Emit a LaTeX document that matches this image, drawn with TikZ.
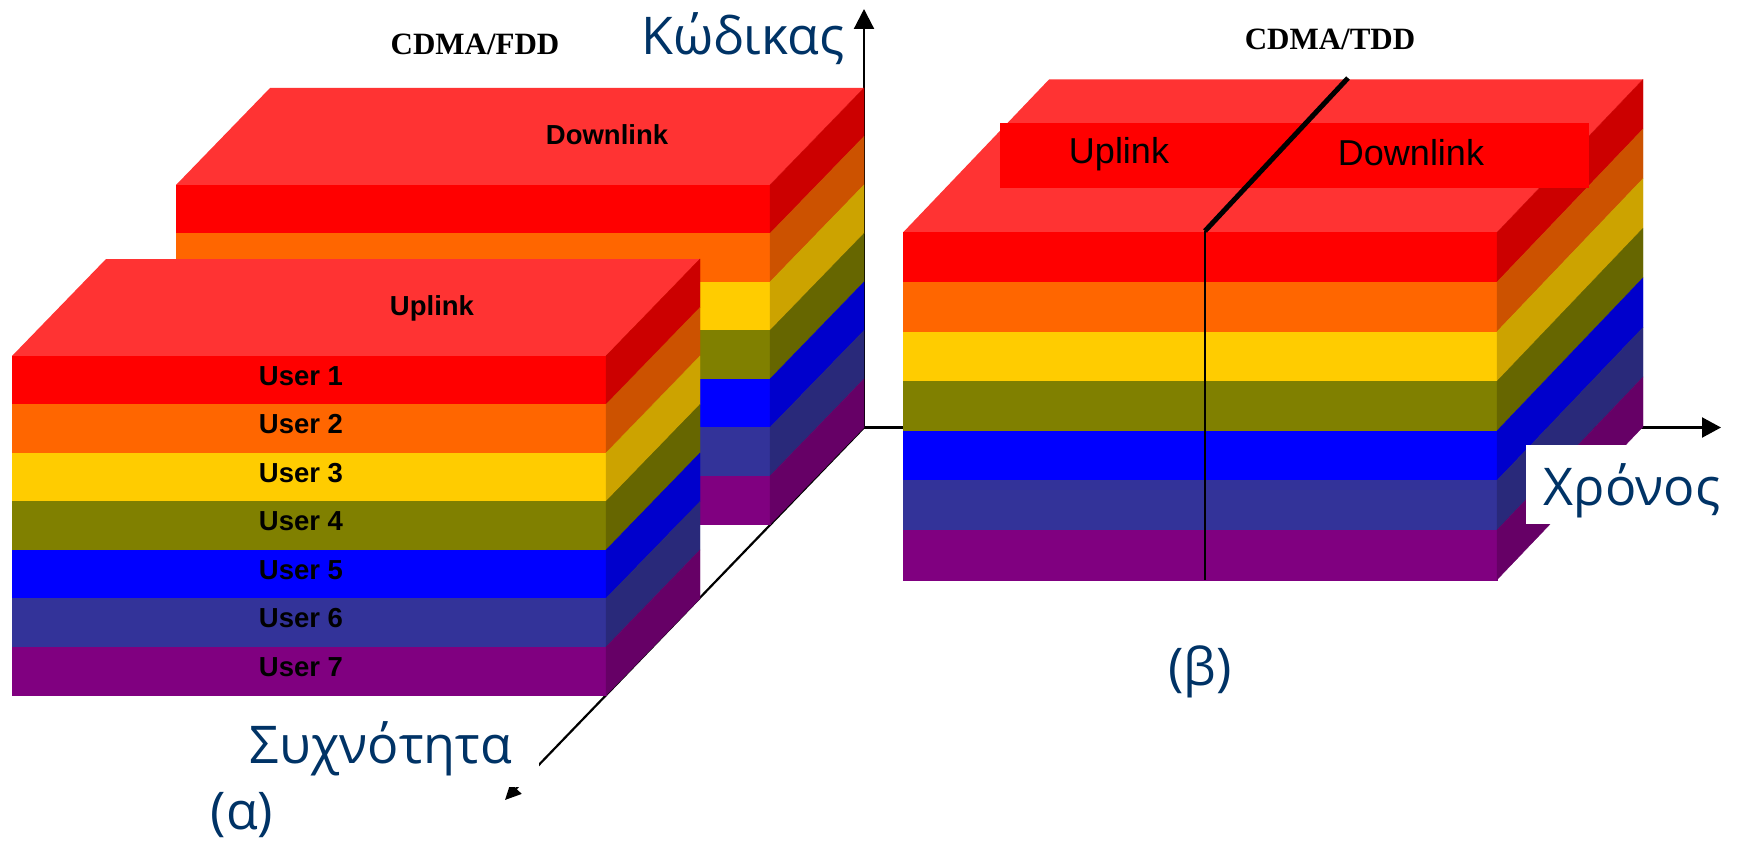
\documentclass[tikz,border=0pt]{standalone}
\usepackage{fontspec}
\setmainfont{Liberation Sans}
\newfontfamily\axisfont{Open Sans}
\newfontfamily\titlefont{Liberation Serif}
\usetikzlibrary{arrows.meta}

% face colours: front (b...) and darker side (s...)
\definecolor{topred}{HTML}{FF3333}
\definecolor{bred}{HTML}{FF0000}    \definecolor{sred}{HTML}{CC0000}
\definecolor{borange}{HTML}{FF6600} \definecolor{sorange}{HTML}{CC5200}
\definecolor{byellow}{HTML}{FFCC00} \definecolor{syellow}{HTML}{CCA300}
\definecolor{bolive}{HTML}{808000}  \definecolor{solive}{HTML}{666600}
\definecolor{bblue}{HTML}{0000FF}   \definecolor{sblue}{HTML}{0000CC}
\definecolor{bnavy}{HTML}{333399}   \definecolor{snavy}{HTML}{29297A}
\definecolor{bpurple}{HTML}{800080} \definecolor{spurple}{HTML}{660066}
\definecolor{axisink}{HTML}{003366}

% a stack of seven coloured layers seen in oblique projection
% #1,#2 front top-left corner, #3 width, #4 layer height, #5,#6 depth offset (right, up)
\newcommand\layerblock[6]{%
  \fill[topred] (#1,#2) -- ++(#5,-#6) -- ++(#3,0) -- ++(-#5,#6) -- cycle;
  \foreach \f/\s [count=\k from 0] in {bred/sred,borange/sorange,byellow/syellow,bolive/solive,bblue/sblue,bnavy/snavy,bpurple/spurple}{
    \filldraw[fill=\f,draw=\f,line width=0.4] (#1,{#2+\k*#4}) rectangle ++(#3,#4);
    \filldraw[fill=\s,draw=\s,line width=0.4] ({#1+#3},{#2+\k*#4}) -- ++(#5,-#6) -- ++(0,#4) -- ++(-#5,#6) -- cycle;
  }%
}

\begin{document}
\begin{tikzpicture}[x=1pt,y=-1pt,
  axisline/.style={line width=2.2, draw=black},
  axislbl/.style={font=\axisfont\fontsize{52}{52}\selectfont, text=axisink, inner sep=0},
  titlelbl/.style={font=\titlefont\bfseries\fontsize{31}{31}\selectfont, inner sep=0},
  boldlbl/.style={font=\bfseries\fontsize{27.5}{28}\selectfont, inner sep=0, anchor=base},
  plainlbl/.style={font=\fontsize{36}{36}\selectfont, inner sep=0, anchor=base},
]
\useasboundingbox (0,0) rectangle (1738,843);

% axes
\coordinate (origin) at (864,427.5);
\coordinate (codetip) at (864,9);
\coordinate (timetip) at (1721,427.5);
\coordinate (freqtip) at (505,800);
\draw[axisline,-{Triangle[length=20,width=20]}] (origin) -- (codetip);
\draw[axisline,-{Triangle[length=19,width=20]}] (origin) -- (timetip);
\draw[axisline,-{Triangle[length=16,width=15]}] (origin) -- (freqtip);

% CDMA/FDD: downlink band behind, uplink band in front
\layerblock{176}{185}{594}{48.5}{94}{97}
\layerblock{12}{356}{594}{48.5}{94}{97}

% CDMA/TDD: one block split in time
\layerblock{903}{232.5}{594}{49.6}{146}{153}
\fill[bred] (1000,123) rectangle (1589,188);
\coordinate (divtop) at (1348,78);
\coordinate (divknee) at (1205,231);
\coordinate (divbot) at (1205,580);
\draw[line width=5] (divtop) -- (divknee);
\draw[line width=2.2] (divknee) -- (divbot);

% labels
\node[titlelbl] (cdmafdd) at (475,44) {CDMA/FDD};
\node[titlelbl] (cdmatdd) at (1330,39) {CDMA/TDD};
\node[axislbl, anchor=base] (code) at (743,55) {Κώδικας};
\node[axislbl, anchor=base, fill=white, text height=60, text depth=19, minimum width=213] (time) at (1632,505) {Χρόνος};
\node[axislbl, anchor=base, fill=white, text height=50, text depth=24, minimum width=316] (freq) at (381,763) {Συχνότητα};
\node[axislbl] (capa) at (242,815) {(α)};
\node[axislbl] (capb) at (1200,672) {(β)};

\node[boldlbl] (fdddown) at (607,144) {Downlink};
\node[boldlbl] (fddup) at (432,315) {Uplink};
\foreach \i in {1,...,7}
  \node[boldlbl] (user\i) at (301,{356+48.5*(\i-0.5)+5}) {User \i};

\node[plainlbl] (tddup) at (1119,163) {Uplink};
\node[plainlbl] (tdddown) at (1411,165) {Downlink};
\end{tikzpicture}
\end{document}
